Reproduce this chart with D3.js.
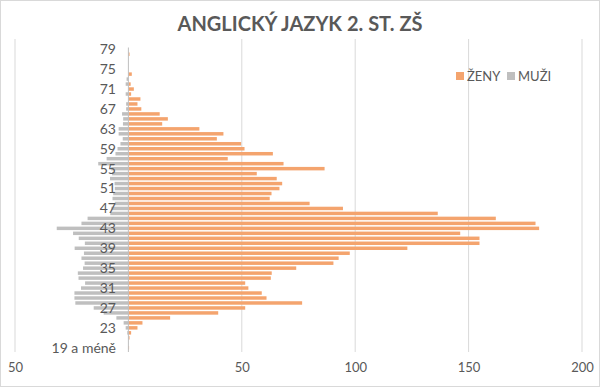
<!DOCTYPE html>
<html>
<head>
<meta charset="utf-8">
<script src="https://cdn.jsdelivr.net/npm/d3@7"></script>
<style>
    body { margin: 0; background: #fff; }
    svg { display: block; font-family: Lato, "Open Sans", sans-serif; }
</style>
</head>
<body>
<div id="chart"></div>
<script>
const ages = ['19 a méně'].concat(d3.range(20, 80).map(String));

// ženy, from "19 a méně" up to 79
const zeny = [0.3, 0, 0.5, 1.2, 4, 6.2, 18.4, 39.6, 51.5, 76.6,
              60.9, 58.8, 52.9, 51.5, 62.8, 63.2, 74, 90.4, 92.7, 97.6,
              123, 154.8, 154.8, 146.3, 181.1, 179.5, 162, 136.4, 94.6, 79.9,
              62.3, 63.1, 66.6, 67.8, 65.4, 56.6, 86.5, 68.4, 43.8, 63.7,
              51.2, 49.7, 39, 41.9, 31.3, 14.9, 17.4, 13.8, 5.7, 4,
              5.3, 1.2, 2.4, 1, 0, 1.5, 0, 0, 0, 0.5, 0];

// muži, same order
const muzi = [0, 0, 0, 0.5, 1.2, 2.1, 5.3, 10.9, 15.3, 23.4,
              23.8, 23.8, 20.9, 19.1, 22, 22.3, 20, 19.3, 20.7, 19.6,
              23.7, 19.2, 21.9, 24.4, 31.6, 20.7, 18, 8, 7.5, 6,
              7, 6.7, 6, 6.1, 8.1, 7.2, 7.6, 13.3, 9.6, 5.7,
              4.8, 3.5, 2.5, 4.3, 4.3, 2.4, 2.3, 2.8, 1, 1,
              0, 1.2, 0, 1.2, 0.8, 0, 0, 0, 0, 0, 0];

const xTicks = [-50, 50, 100, 150, 200];
const ageLabels = ages.filter((d, i) => i % 4 === 0);

const width = 600, height = 387;
const textColor = '#595959';

const svg = d3.select('#chart')
    .append('svg')
    .attr('width', width)
    .attr('height', height);

svg.append('rect')
    .attr('x', 0.5).attr('y', 0.5)
    .attr('width', width - 1).attr('height', height - 1)
    .attr('fill', '#fff')
    .attr('stroke', '#d9d9d9');

svg.append('text')
    .attr('x', 300)
    .attr('y', 31)
    .attr('text-anchor', 'middle')
    .style('font-size', '20px')
    .style('font-weight', 'bold')
    .style('fill', textColor)
    .text('ANGLICKÝ JAZYK 2. ST. ZŠ');

const xScale = d3.scaleLinear()
    .domain([-50, 200])
    .range([15, 582]);

const yScale = d3.scaleBand()
    .domain(ages)
    .range([349.5, 47.5])
    .paddingInner(0.3);

// gridlines
svg.append('g')
    .selectAll('line')
    .data(xTicks)
    .enter()
    .append('line')
    .attr('x1', d => xScale(d)).attr('x2', d => xScale(d))
    .attr('y1', 39).attr('y2', 352)
    .attr('stroke', '#d9d9d9')
    .attr('stroke-width', 1);

// men to the left
svg.append('g')
    .selectAll('rect')
    .data(muzi)
    .enter()
    .append('rect')
    .attr('x', d => xScale(-d))
    .attr('y', (d, i) => yScale(ages[i]))
    .attr('width', d => xScale(0) - xScale(-d))
    .attr('height', yScale.bandwidth())
    .attr('fill', '#bfbfbf');

// women to the right
svg.append('g')
    .selectAll('rect')
    .data(zeny)
    .enter()
    .append('rect')
    .attr('x', xScale(0))
    .attr('y', (d, i) => yScale(ages[i]))
    .attr('width', d => xScale(d) - xScale(0))
    .attr('height', yScale.bandwidth())
    .attr('fill', '#f4a46e');

// vertical axis line
svg.append('line')
    .attr('x1', xScale(0)).attr('x2', xScale(0))
    .attr('y1', 47.5).attr('y2', 352)
    .attr('stroke', '#bfbfbf');

// age labels
svg.append('g')
    .selectAll('text')
    .data(ageLabels)
    .enter()
    .append('text')
    .attr('x', 116)
    .attr('y', d => yScale(d) + yScale.bandwidth() / 2)
    .attr('dy', '0.35em')
    .attr('text-anchor', 'end')
    .style('font-size', '14px')
    .style('fill', textColor)
    .text(d => d);

// x axis labels
const xAxis = svg.append('g')
    .attr('transform', 'translate(0, 360)')
    .call(d3.axisBottom(xScale)
        .tickValues(xTicks)
        .tickSize(0)
        .tickFormat(d => Math.abs(d)));

xAxis.select('.domain').remove();
xAxis.selectAll('text')
    .style('font-size', '13px')
    .style('font-family', 'Lato, "Open Sans", sans-serif')
    .style('fill', textColor);

// legend
const legend = svg.append('g')
    .attr('transform', 'translate(456, 76)');

const legendItems = [
    { label: 'ŽENY', color: '#f4a46e', x: 0 },
    { label: 'MUŽI', color: '#bfbfbf', x: 51 }
];

legend.selectAll('g')
    .data(legendItems)
    .enter()
    .append('g')
    .attr('transform', d => `translate(${d.x}, 0)`)
    .each(function(d) {
        const g = d3.select(this);
        g.append('rect')
            .attr('x', 0).attr('y', -4)
            .attr('width', 8).attr('height', 8)
            .attr('fill', d.color);
        g.append('text')
            .attr('x', 11)
            .attr('y', 0)
            .attr('dy', '0.35em')
            .style('font-size', '13px')
            .style('fill', textColor)
            .text(d.label);
    });
</script>
</body>
</html>
